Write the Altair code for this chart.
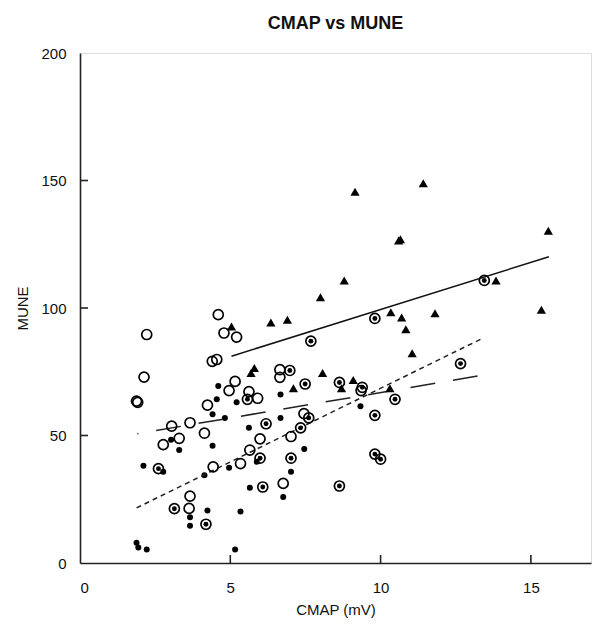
import altair as alt
import pandas as pd

# ---- data ----
tri_x = [9.15, 11.42, 10.60, 10.66, 15.58, 8.79, 13.84, 8.00, 15.35, 10.34, 10.70, 11.81,
         10.84, 6.90, 6.35, 5.04, 11.05, 5.80, 5.69, 8.07, 9.09, 7.10, 8.70, 10.31]
tri_y = [145.6, 148.9, 126.5, 127.0, 130.3, 110.8, 110.8, 104.2, 99.3, 98.3, 96.3, 97.9,
         91.7, 95.4, 94.3, 92.7, 82.3, 76.5, 74.5, 74.5, 71.8, 68.5, 68.5, 68.5]

open_x = [4.60, 2.22, 4.79, 5.21, 4.40, 4.55, 2.13, 6.65, 6.65, 5.16, 4.96, 5.62, 5.91,
          1.88, 1.92, 4.24, 3.05, 3.66, 4.14, 3.30, 2.77, 5.99, 7.02, 5.65, 7.45, 4.43,
          5.34, 3.66, 3.63, 6.76, 9.35]
open_y = [97.4, 89.6, 90.2, 88.6, 79.1, 79.8, 72.9, 75.8, 72.8, 71.2, 67.6, 67.2, 64.6,
          63.5, 63.0, 61.9, 53.7, 55.0, 50.9, 48.9, 46.4, 48.7, 49.6, 44.3, 58.6, 37.7,
          39.0, 26.2, 21.4, 31.2, 67.6]

bull_x = [13.45, 9.81, 7.68, 12.66, 6.98, 7.49, 8.63, 9.39, 10.48, 5.57, 6.19, 7.61,
          7.34, 9.81, 5.99, 7.02, 9.81, 10.00, 2.61, 6.08, 8.63, 3.14, 4.19]
bull_y = [110.8, 95.9, 87.0, 78.2, 75.5, 70.2, 70.8, 68.9, 64.2, 64.2, 54.6, 56.9,
          53.0, 57.9, 41.1, 41.1, 42.7, 40.7, 37.0, 29.8, 30.2, 21.3, 15.2]

dot_x = [4.60, 4.55, 5.21, 6.67, 9.33, 4.41, 4.82, 6.67, 5.62, 3.03, 4.41, 3.30, 7.46,
         2.11, 2.77, 5.88, 4.96, 7.02, 4.14, 5.65, 6.76, 4.24, 5.34, 3.66, 3.66, 1.88,
         1.94, 2.22, 5.16]
dot_y = [69.4, 64.2, 63.0, 66.1, 61.5, 58.3, 56.9, 56.9, 53.0, 48.3, 46.0, 44.3, 44.7,
         38.1, 35.8, 39.7, 37.4, 35.8, 34.4, 29.5, 25.9, 20.6, 20.2, 17.9, 14.6, 7.9,
         6.1, 5.3, 5.3]

# fitted lines (end points)
solid_x = [5.04, 15.60]
solid_y = [81.1, 120.1]
short_x = [1.88, 13.39]
short_y = [21.6, 88.1]
long_x = [1.91, 13.28]
long_y = [50.7, 73.4]

x_ticks = [0, 5, 10, 15]
y_ticks = [0, 50, 100, 150, 200]
x_inner_ticks = [5, 10, 15]
y_inner_ticks = [50, 100, 150]

W, H = 511, 510
X_MAX, Y_MAX = 17, 200
TICK_PX = 8
FONT = "Liberation Sans"
INK = "#222"
XS = alt.Scale(domain=[0, X_MAX], nice=False, zero=False)
YS = alt.Scale(domain=[0, Y_MAX], nice=False)

main_x = alt.Axis(values=x_ticks, ticks=False, domain=True, domainColor=INK,
                  domainWidth=1.6, grid=False,
                  labelPadding=17, labelFontSize=15, labelFont=FONT, labelColor="#111",
                  title="CMAP (mV)", titleFont=FONT, titleFontSize=15,
                  titleFontWeight="normal", titleColor="#111", titlePadding=7)
main_y = alt.Axis(values=y_ticks, ticks=False, domain=True, domainColor=INK,
                  domainWidth=1.6, grid=False,
                  labelPadding=14, labelFontSize=15, labelFont=FONT, labelColor="#111",
                  title="MUNE", titleFont=FONT, titleFontSize=15,
                  titleFontWeight="normal", titleColor="#111", titlePadding=10)


def frame(xs, ys):
    return pd.DataFrame({"x": xs, "y": ys})


def xenc(field="x"):
    return alt.X(f"{field}:Q", scale=XS, axis=main_x, title="CMAP (mV)")


def yenc(field="y"):
    return alt.Y(f"{field}:Q", scale=YS, axis=main_y, title="MUNE")


def enc():
    return dict(x=xenc(), y=yenc())


dots = alt.Chart(frame(dot_x, dot_y)).mark_point(
    shape="circle", filled=True, color="black", size=36, opacity=1
).encode(**enc())

# inward axis ticks: length of TICK_PX pixels, converted to data units
ty = TICK_PX * Y_MAX / H
tx = TICK_PX * X_MAX / W
xt_df = pd.DataFrame({"x": x_inner_ticks, "y": [0.0] * 3, "y2": [ty] * 3})
yt_df = pd.DataFrame({"y": y_inner_ticks, "x": [0.0] * 3, "x2": [tx] * 3})
xtick_layer = alt.Chart(xt_df).mark_rule(color=INK, strokeWidth=1.6, opacity=1).encode(
    x=xenc(), y=yenc(), y2="y2:Q")
ytick_layer = alt.Chart(yt_df).mark_rule(color=INK, strokeWidth=1.6, opacity=1).encode(
    x=xenc(), x2="x2:Q", y=yenc())

opens = alt.Chart(frame(open_x, open_y)).mark_point(
    shape="circle", filled=False, color="black", size=100, strokeWidth=1.7, opacity=1
).encode(**enc())

bull_outer = alt.Chart(frame(bull_x, bull_y)).mark_point(
    shape="circle", filled=False, color="black", size=100, strokeWidth=1.7, opacity=1
).encode(**enc())
bull_inner = alt.Chart(frame(bull_x, bull_y)).mark_point(
    shape="circle", filled=True, color="black", size=24, opacity=1
).encode(**enc())

tris = alt.Chart(frame(tri_x, tri_y)).mark_point(
    shape="triangle-up", filled=True, color="black", size=85, opacity=1
).encode(**enc())

solid = alt.Chart(frame(solid_x, solid_y)).mark_line(
    color="#111", strokeWidth=1.5
).encode(**enc())
short = alt.Chart(frame(short_x, short_y)).mark_line(
    color=INK, strokeWidth=1.5, strokeDash=[5, 4]
).encode(**enc())
longd = alt.Chart(frame(long_x, long_y)).mark_line(
    color=INK, strokeWidth=1.5, strokeDash=[25, 18], strokeDashOffset=24
).encode(**enc())

chart = alt.layer(
    dots, solid, short, longd, opens, bull_outer, bull_inner, tris, xtick_layer, ytick_layer
).properties(
    width=W, height=H,
    title=alt.TitleParams("CMAP vs MUNE", font=FONT, fontSize=18, fontWeight="bold",
                          color="#111", anchor="middle", offset=13),
    autosize=alt.AutoSizeParams(type="none"),
    padding={"left": 72, "top": 45, "right": 2, "bottom": 56},
).configure_view(stroke=INK, strokeWidth=1.6).configure(background="white")

chart.save("out.html", embed_options={"renderer": "svg", "actions": False})
